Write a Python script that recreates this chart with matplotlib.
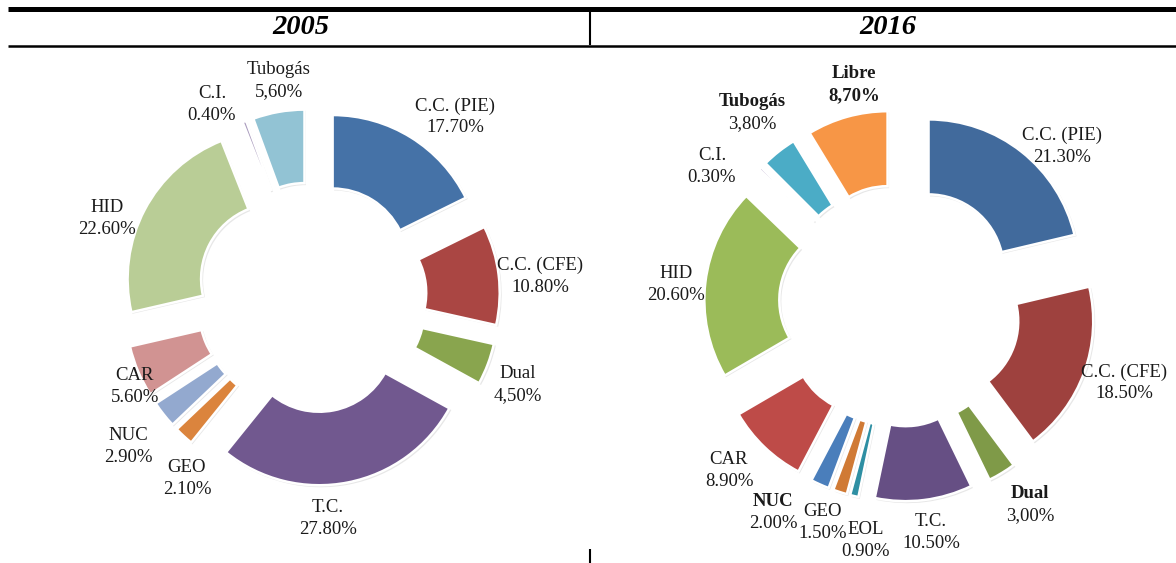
import matplotlib
matplotlib.use('Agg')
import matplotlib.pyplot as plt

W, H = 1176, 563

# ---------------- data ----------------
cats_2005 = ['C.C. (PIE)', 'C.C. (CFE)', 'Dual', 'T.C.', 'GEO', 'NUC', 'CAR', 'HID', 'C.I.', 'Tubogás']
vals_2005 = [17.7, 10.8, 4.5, 27.8, 2.1, 2.9, 5.6, 22.6, 0.4, 5.6]
pct_2005 = ['17.70%', '10.80%', '4,50%', '27.80%', '2.10%', '2.90%', '5.60%', '22.60%', '0.40%', '5,60%']

cats_2016 = ['C.C. (PIE)', 'C.C. (CFE)', 'Dual', 'T.C.', 'EOL', 'GEO', 'NUC', 'CAR', 'HID', 'C.I.', 'Tubogás', 'Libre']
vals_2016 = [21.3, 18.5, 3.0, 10.5, 0.9, 1.5, 2.0, 8.9, 20.6, 0.3, 3.8, 8.7]
pct_2016 = ['21.30%', '18.50%', '3,00%', '10.50%', '0.90%', '1.50%', '2.00%', '8.90%', '20.60%', '0.30%', '3,80%', '8,70%']

years = ['2005', '2016']

# ---------------- styles / layout ----------------
colors_2005 = ['#4572A7', '#AA4643', '#89A54E', '#71588F', '#DB843D', '#93A9CF',
               '#D19392', '#B9CD96', '#A99BBD', '#92C3D4']
colors_2016 = ['#416A9C', '#9E413E', '#7F9A48', '#664F84', '#2E8FA3', '#D07A35',
               '#4A7EBB', '#BE4B48', '#9BBB59', '#B3A2C7', '#4BACC6', '#F79646']

# label centres in pixel coordinates (x, y from top)
lab_pos_2005 = [(455, 117), (540, 276), (518, 385), (328, 519), (187, 478), (128, 446),
                (135, 386), (107, 218), (212, 104), (279, 81)]
lab_pos_2016 = [(1062, 146), (1124, 383), (1030, 505), (931, 532), (866, 540), (823, 522),
                (773, 513), (729, 471), (676, 285), (712, 166), (752, 113), (854, 85)]
bold_name_2016 = {'Tubogás', 'Libre', 'Dual', 'NUC'}
bold_val_2016 = {'Libre'}

plt.rcParams['font.family'] = ['Liberation Serif', 'DejaVu Serif']

fig = plt.figure(figsize=(W / 100, H / 100), dpi=100)
ax = fig.add_axes([0, 0, 1, 1])


def donut(vals, colors, cx, cy, R, r, expl):
    n = len(vals)
    # soft shadow
    ax.pie(vals, colors=['#d4d4d4'] * n, startangle=90, counterclock=False,
           center=(cx + 1.5, H - cy - 1.5), radius=R + 0.5, explode=[expl] * n,
           wedgeprops=dict(width=R - r + 1, edgecolor='none', alpha=0.55), frame=True)
    ax.pie(vals, colors=colors, startangle=90, counterclock=False,
           center=(cx, H - cy), radius=R, explode=[expl] * n,
           wedgeprops=dict(width=R - r, edgecolor='white', linewidth=1.8), frame=True)


donut(vals_2005, colors_2005, 311.5, 297.5, 148.5, 75, 40)
donut(vals_2016, colors_2016, 900, 305.5, 150, 75, 46)


def labels(cats, pcts, pos, bold_names=(), bold_vals=()):
    for c, p, (x, y) in zip(cats, pcts, pos):
        ax.text(x, H - y + 11, c, ha='center', va='center', fontsize=13.5,
                fontweight='bold' if c in bold_names else 'normal', color='#1a1a1a')
        ax.text(x, H - y - 11, p, ha='center', va='center', fontsize=13.5,
                fontweight='bold' if c in bold_vals else 'normal', color='#1a1a1a')


labels(cats_2005, pct_2005, lab_pos_2005)
labels(cats_2016, pct_2016, lab_pos_2016, bold_name_2016, bold_val_2016)

# header table
ax.plot([8, W], [H - 8.5, H - 8.5], color='black', lw=3.6, solid_capstyle='butt')
ax.plot([8, W], [H - 45.5, H - 45.5], color='black', lw=1.8, solid_capstyle='butt')
ax.plot([590, 590], [H - 11, H - 45], color='black', lw=1.5, solid_capstyle='butt')
ax.plot([590, 590], [H - 549, 0], color='black', lw=1.5, solid_capstyle='butt')
ax.text(300.5, H - 28, years[0], ha='center', va='center', fontsize=20.5,
        fontweight='bold', fontstyle='italic', family=['Liberation Serif'])
ax.text(887.5, H - 28, years[1], ha='center', va='center', fontsize=20.5,
        fontweight='bold', fontstyle='italic', family=['Liberation Serif'])

ax.set_xlim(0, W)
ax.set_ylim(0, H)
ax.set_aspect('equal')
ax.axis('off')

fig.savefig('out.png', dpi=100, facecolor='white')
